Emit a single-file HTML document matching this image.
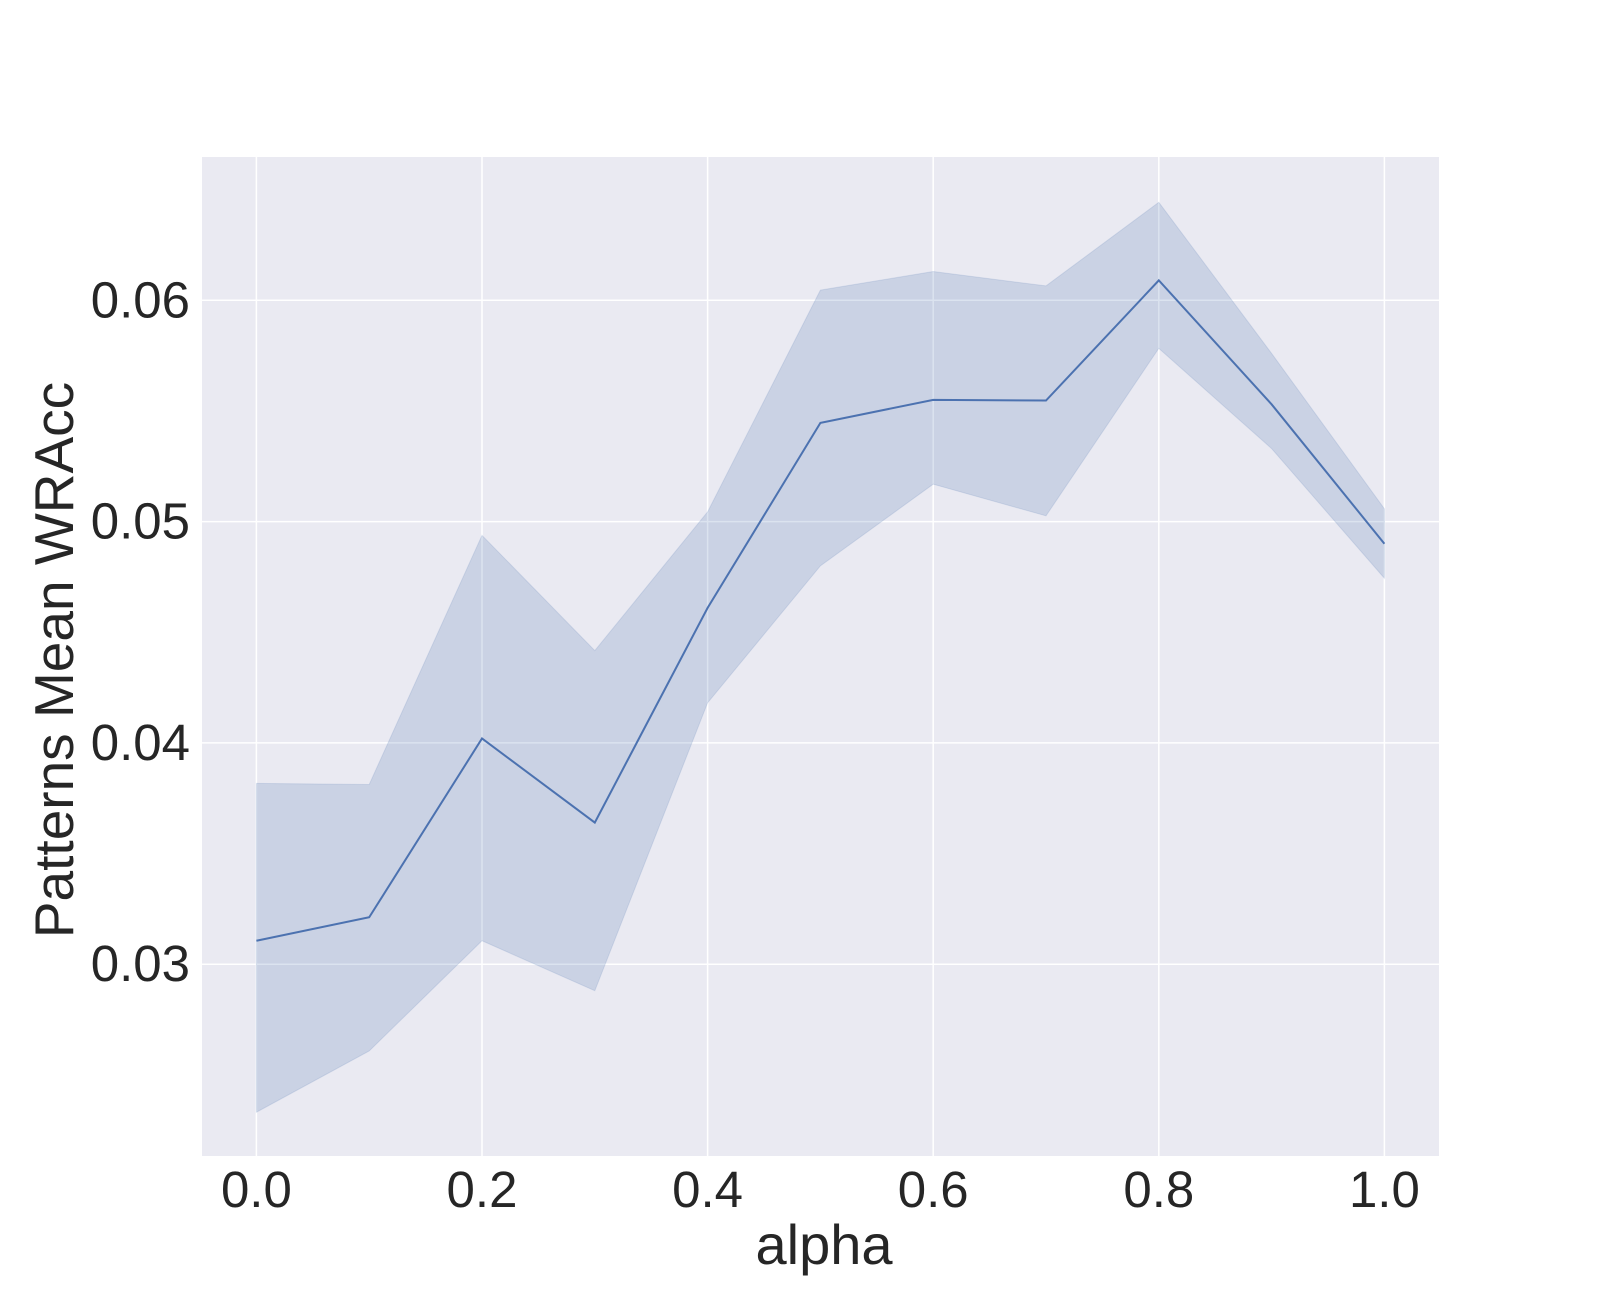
<!DOCTYPE html>
<html><head><meta charset="utf-8"><style>
body{margin:0;background:#fff;}
svg{display:block;font-family:"Liberation Sans",Arial,sans-serif;}
</style></head><body>
<svg id="chart" width="1600" height="1300" viewBox="0 0 1600 1300">
<rect x="202" y="157" width="1237" height="999" fill="#eaeaf2"/>
<g id="grid"></g>
<path id="band" fill="#4c72b0" fill-opacity="0.2" stroke="#4c72b0" stroke-opacity="0.15" stroke-width="1"/>
<path id="line" fill="none" stroke="#4c72b0" stroke-width="2"/>
<g id="ticks" fill="#262626" font-size="51"></g>
<text x="824" y="1264" text-anchor="middle" font-size="56" fill="#262626">alpha</text>
<text transform="translate(73,660) rotate(-90)" text-anchor="middle" font-size="55" fill="#262626">Patterns Mean WRAcc</text>
</svg>
<script>
const alphas=[0,0.1,0.2,0.3,0.4,0.5,0.6,0.7,0.8,0.9,1.0];
const meanVals=[0.03106,0.03212,0.0402,0.0364,0.0461,0.05446,0.0555,0.05547,0.0609,0.0553,0.0490];
const upperVals=[0.03817,0.03812,0.04938,0.04417,0.05044,0.06046,0.0613,0.06065,0.06443,0.0576,0.05058];
const lowerVals=[0.02331,0.02608,0.03106,0.0288,0.04181,0.0480,0.05169,0.05026,0.05783,0.0533,0.04744];
const xTicks=[0,0.2,0.4,0.6,0.8,1.0];
const xTickLabels=["0.0","0.2","0.4","0.6","0.8","1.0"];
const xGridVals=[0,0.2,0.4,0.6,0.8,1.0];
const yTicks=[0.03,0.04,0.05,0.06];
const yTickLabels=["0.03","0.04","0.05","0.06"];
const X=v=>256.4+v*1128;
const Y=v=>964.2-(v-0.03)*22130;
const ns="http://www.w3.org/2000/svg";
const grid=document.getElementById('grid'),ticks=document.getElementById('ticks');
xGridVals.forEach(v=>{const l=document.createElementNS(ns,'line');


l.setAttribute('x1',X(v));l.setAttribute('x2',X(v));l.setAttribute('y1',157);l.setAttribute('y2',1156);l.setAttribute('stroke','#fff');l.setAttribute('stroke-width','1.5');grid.appendChild(l);});
yTicks.forEach(v=>{const l=document.createElementNS(ns,'line');


l.setAttribute('x1',202);l.setAttribute('x2',1439);l.setAttribute('y1',Y(v));l.setAttribute('y2',Y(v));l.setAttribute('stroke','#fff');l.setAttribute('stroke-width','1.5');grid.appendChild(l);});
xTicks.forEach((v,i)=>{const t=document.createElementNS(ns,'text');


t.setAttribute('x',X(v));t.setAttribute('y',1207);t.setAttribute('text-anchor','middle');t.textContent=xTickLabels[i];ticks.appendChild(t);});
yTicks.forEach((v,i)=>{const t=document.createElementNS(ns,'text');


t.setAttribute('x',190);t.setAttribute('y',Y(v)+17);t.setAttribute('text-anchor','end');t.textContent=yTickLabels[i];ticks.appendChild(t);});
let d='';alphas.forEach((a,i)=>{d+=(i?'L':'M')+X(a)+','+Y(upperVals[i]);});
for(let i=alphas.length-1;i>=0;i--)d+='L'+X(alphas[i])+','+Y(lowerVals[i]);
document.getElementById('band').setAttribute('d',d+'Z');
let m='';alphas.forEach((a,i)=>{m+=(i?'L':'M')+X(a)+','+Y(meanVals[i]);});
document.getElementById('line').setAttribute('d',m);
</script>
</body></html>
